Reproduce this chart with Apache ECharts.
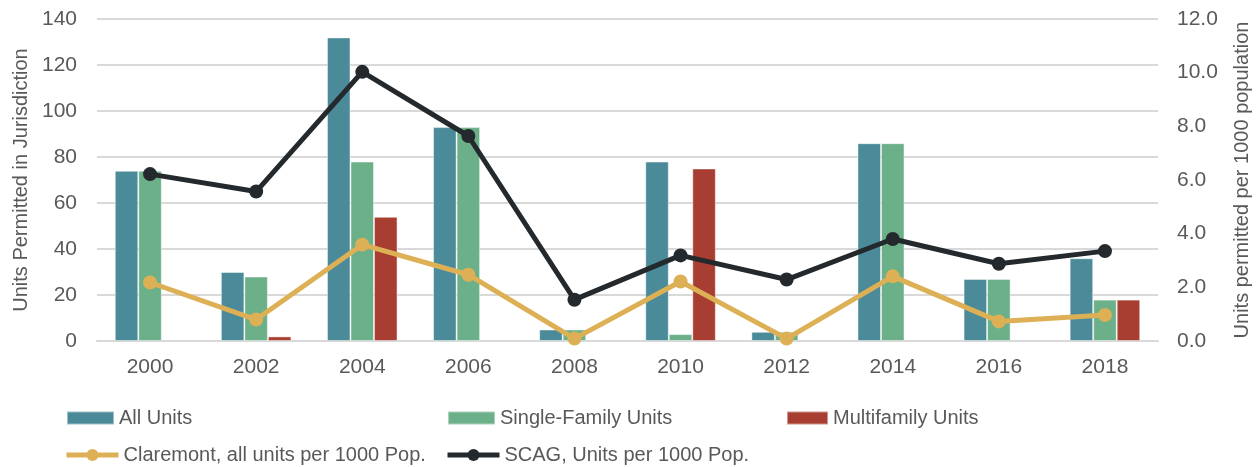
<!DOCTYPE html>
<html><head><meta charset="utf-8">
<script src="https://cdn.jsdelivr.net/npm/echarts@6/dist/echarts.min.js"></script>
<style>html,body{margin:0;padding:0;background:#fff}#c{width:1260px;height:467px}</style>
</head><body><div id="c"></div>
<script>
const years = ['2000','2002','2004','2006','2008','2010','2012','2014','2016','2018'];
const allUnits = [74, 30, 132, 93, 5, 78, 4, 86, 27, 36];
const singleFamily = [74, 28, 78, 93, 5, 3, 4, 86, 27, 18];
const multifamily = [0, 2, 54, 0, 0, 75, 0, 0, 0, 18];
const claremont = [2.18, 0.80, 3.59, 2.47, 0.09, 2.22, 0.09, 2.41, 0.73, 0.97];
const scag = [6.22, 5.57, 10.03, 7.64, 1.54, 3.19, 2.29, 3.80, 2.88, 3.35];
const leftTicks = [0, 140, 20];
const rightTicks = [0, 12, 2];

const FONT = 'Liberation Sans';
const TXT = '#595959';
const GRID = '#d9d9d9';
const barBorder = {borderColor: 'rgba(255,255,255,0.45)', borderWidth: 1};
const legendText = {color: TXT, fontSize: 20, fontFamily: FONT};
const nz = arr => arr.map(v => (v === 0 ? '-' : v));
function lg(name, left, top, w, h, icon) {
  const o = {data: [{name: name, icon: icon}], left: left, top: top, itemWidth: w, itemHeight: h, itemGap: 0,
    textStyle: legendText, padding: 0, selectedMode: false};
  if (!icon) { o.data = [name]; o.lineStyle = {width: 5}; }
  return o;
}
const chart = echarts.init(document.getElementById('c'));
chart.setOption({
  animation: false,
  grid: {left: 97, right: 102, top: 19, bottom: 126},
  legend: [
    lg('All Units', 66, 408, 47, 13, 'rect'),
    lg('Single-Family Units', 447, 408, 47, 13, 'rect'),
    lg('Multifamily Units', 786, 408, 41, 13, 'rect'),
    lg('Claremont, all units per 1000 Pop.', 64, 445, 52, 15),
    lg('SCAG, Units per 1000 Pop.', 445, 445, 52, 15)
  ],
  xAxis: {
    type: 'category', data: years, boundaryGap: true,
    axisLine: {lineStyle: {color: GRID, width: 2}},
    axisTick: {show: false},
    axisLabel: {color: TXT, fontSize: 21, fontFamily: FONT, margin: 16}
  },
  yAxis: [
    {type: 'value', min: leftTicks[0], max: leftTicks[1], interval: leftTicks[2],
     name: 'Units Permitted in Jurisdiction', nameLocation: 'middle', nameGap: 66,
     nameTextStyle: {color: TXT, fontSize: 20, fontFamily: FONT},
     axisLine: {show: false}, axisTick: {show: false},
     axisLabel: {color: TXT, fontSize: 21, fontFamily: FONT, margin: 20},
     splitLine: {lineStyle: {color: GRID, width: 2}}},
    {type: 'value', min: rightTicks[0], max: rightTicks[1], interval: rightTicks[2],
     name: 'Units permitted per 1000 population', nameLocation: 'middle', nameGap: 74,
     nameRotate: 90,
     nameTextStyle: {color: TXT, fontSize: 20, fontFamily: FONT},
     axisLine: {show: false}, axisTick: {show: false},
     axisLabel: {color: TXT, fontSize: 21, fontFamily: FONT, margin: 19,
       formatter: v => v.toFixed(1)},
     splitLine: {show: false}}
  ],
  series: [
    {name: 'All Units', type: 'bar', data: nz(allUnits), barGap: '0%', barCategoryGap: '33.5%',
     itemStyle: Object.assign({color: '#4A8A99'}, barBorder)},
    {name: 'Single-Family Units', type: 'bar', data: nz(singleFamily),
     itemStyle: Object.assign({color: '#6BB088'}, barBorder)},
    {name: 'Multifamily Units', type: 'bar', data: nz(multifamily),
     itemStyle: Object.assign({color: '#A83E32'}, barBorder)},
    {name: 'Claremont, all units per 1000 Pop.', type: 'line', yAxisIndex: 1, data: claremont,
     symbol: 'circle', symbolSize: 14, lineStyle: {color: '#DDB055', width: 5},
     itemStyle: {color: '#DDB055'}, z: 5},
    {name: 'SCAG, Units per 1000 Pop.', type: 'line', yAxisIndex: 1, data: scag,
     symbol: 'circle', symbolSize: 14, lineStyle: {color: '#23292C', width: 5},
     itemStyle: {color: '#23292C'}, z: 6}
  ]
});
</script></body></html>
